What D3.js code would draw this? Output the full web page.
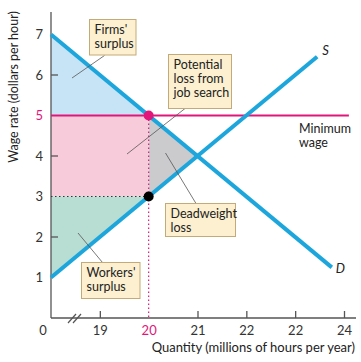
<!DOCTYPE html>
<html><head><meta charset="utf-8">
<script src="https://cdn.jsdelivr.net/npm/d3@7"></script>
<style>
html,body{margin:0;padding:0;background:#fff;}
text{font-family:Lato,"Open Sans",sans-serif;}
</style></head>
<body><svg id="c" width="361" height="362"></svg>
<script>
// ---- data ----
const qTicks = [19, 20, 21, 22, 23, 24];
const qTickLabels = ["19", "20", "21", "22", "22", "24"];
const wageTicks = [1, 2, 3, 4, 5, 6, 7];
const wageTickMarks = [2, 4, 6];
const demand = [{q: 18, w: 7}, {q: 23.75, w: 1.25}];
const supply = [{q: 18, w: 1}, {q: 23.45, w: 6.45}];
const minWage = 5;
const minWageEndQ = 24.1;
const quantityAtMin = 20;
const supplyPriceAtMin = 3;
const firmsSurplus = [{q: 18, w: 7}, {q: 20, w: 5}, {q: 18, w: 5}];
const potentialLoss = [{q: 18, w: 5}, {q: 20, w: 5}, {q: 20, w: 3}, {q: 18, w: 3}];
const deadweight = [{q: 20, w: 5}, {q: 21, w: 4}, {q: 20, w: 3}];
const workersSurplus = [{q: 18, w: 3}, {q: 20, w: 3}, {q: 18, w: 1}];
const labels = [
  {lines: ["Firms'", "surplus"], box: [89.5, 19.5, 46.5, 35.5], from: [104.5, 55.5], to: [72, 78]},
  {lines: ["Potential", "loss from", "job search"], box: [168.5, 54.5, 63, 54], from: [185, 108.5], to: [127, 154]},
  {lines: ["Deadweight", "loss"], box: [165.5, 203.5, 70, 33], from: [196, 203.5], to: [165.5, 153]},
  {lines: ["Workers'", "surplus"], box: [81.5, 262.5, 58.5, 36], from: [102.5, 262.5], to: [78, 233]}
];

// ---- drawing ----
const svg = d3.select("#c");
const x = d3.scaleLinear().domain([18, 24]).range([51, 344]);
const y = d3.scaleLinear().domain([0, 7]).range([318, 34.5]);
const line = d3.line().x(d => x(d.q)).y(d => y(d.w));
const BLUE = "#1ca6dc", MAG = "#e2167a";

// fills
svg.append("path").attr("d", line(firmsSurplus) + "Z").attr("fill", "#c7e4f6");
svg.append("path").attr("d", line(potentialLoss) + "Z").attr("fill", "#f8cbdb");
svg.append("path").attr("d", line(deadweight) + "Z").attr("fill", "#cbcacd");
svg.append("path").attr("d", line(workersSurplus) + "Z").attr("fill", "#b8ddd3");

// axes
const axisColor = "#555";
svg.append("line").attr("x1", x(18)).attr("x2", x(18)).attr("y1", 12).attr("y2", y(0))
  .attr("stroke", axisColor).attr("stroke-width", 1.3);
svg.append("line").attr("x1", x(18)).attr("x2", 356).attr("y1", y(0)).attr("y2", y(0))
  .attr("stroke", axisColor).attr("stroke-width", 1.3);

const xAxis = svg.append("g").attr("transform", `translate(0,${y(0)})`)
  .call(d3.axisBottom(x).tickValues(qTicks).tickSizeInner(-7).tickSizeOuter(0).tickPadding(8)
    .tickFormat((d, i) => qTickLabels[i]));
xAxis.select(".domain").remove();
xAxis.selectAll(".tick line").attr("stroke", axisColor).attr("stroke-width", 1.3)
  .filter(d => d === quantityAtMin).remove();
xAxis.selectAll(".tick text").attr("font-size", 13).attr("fill", d => d === quantityAtMin ? MAG : "#333")
  .attr("font-family", "Lato, 'Open Sans', sans-serif");

const yAxis = svg.append("g").attr("transform", `translate(${x(18)},0)`)
  .call(d3.axisLeft(y).tickValues(wageTicks).tickSize(0).tickPadding(8).tickFormat(d3.format("d")));
yAxis.select(".domain").remove();
yAxis.selectAll(".tick text").attr("font-size", 13).attr("fill", d => d === minWage ? MAG : "#333")
  .attr("font-family", "Lato, 'Open Sans', sans-serif");
svg.selectAll(".ytm").data(wageTickMarks).enter().append("line")
  .attr("x1", x(18)).attr("x2", x(18) + 7).attr("y1", d => y(d)).attr("y2", d => y(d))
  .attr("stroke", axisColor).attr("stroke-width", 1.3);

// origin label and axis break
svg.append("text").attr("x", 43).attr("y", y(0) + 17).attr("text-anchor", "middle")
  .attr("font-size", 13).attr("fill", "#333").text("0");
[0, 5].forEach(o => {
  svg.append("line").attr("x1", 68 + o).attr("y1", y(0) + 5).attr("x2", 76 + o).attr("y2", y(0) - 4)
    .attr("stroke", axisColor).attr("stroke-width", 1.2);
});

// dotted guides
svg.append("line").attr("x1", x(18)).attr("x2", x(quantityAtMin)).attr("y1", y(supplyPriceAtMin)).attr("y2", y(supplyPriceAtMin))
  .attr("stroke", "#333").attr("stroke-width", 1.2).attr("stroke-dasharray", "1.5,2.5");
svg.append("line").attr("x1", x(quantityAtMin)).attr("x2", x(quantityAtMin)).attr("y1", y(minWage)).attr("y2", y(0))
  .attr("stroke", MAG).attr("stroke-width", 1.2).attr("stroke-dasharray", "1.5,2.5");

// minimum wage line
svg.append("line").attr("x1", x(18)).attr("x2", x(minWageEndQ)).attr("y1", y(minWage)).attr("y2", y(minWage))
  .attr("stroke", MAG).attr("stroke-width", 2);

// curves
svg.append("path").attr("d", line(demand)).attr("stroke", BLUE).attr("stroke-width", 4).attr("fill", "none");
svg.append("path").attr("d", line(supply)).attr("stroke", BLUE).attr("stroke-width", 4).attr("fill", "none");

// leaders and boxes
labels.forEach(l => {
  svg.append("line").attr("x1", l.from[0]).attr("y1", l.from[1]).attr("x2", l.to[0]).attr("y2", l.to[1])
    .attr("stroke", "#555").attr("stroke-width", 0.8);
});

// points
svg.append("circle").attr("cx", x(quantityAtMin)).attr("cy", y(minWage)).attr("r", 5).attr("fill", MAG);
svg.append("circle").attr("cx", x(quantityAtMin)).attr("cy", y(supplyPriceAtMin)).attr("r", 5).attr("fill", "#000");

labels.forEach(l => {
  const [bx, by, bw, bh] = l.box;
  svg.append("rect").attr("x", bx).attr("y", by).attr("width", bw).attr("height", bh)
    .attr("fill", "#fcf0d0").attr("stroke", "#c4aa78").attr("stroke-width", 1);
  const t = svg.append("text").attr("x", bx + 5).attr("y", by + 14).attr("font-size", 12.5).attr("fill", "#222");
  l.lines.forEach((s, i) => t.append("tspan").attr("x", bx + 5).attr("dy", i === 0 ? 0 : 14).text(s));
});

// curve labels
svg.append("text").attr("x", x(supply[1].q) + 5).attr("y", y(supply[1].w) - 2).attr("font-size", 13)
  .attr("font-style", "italic").attr("fill", "#222").text("S");
svg.append("text").attr("x", x(demand[1].q) + 4).attr("y", y(demand[1].w) + 6).attr("font-size", 13)
  .attr("font-style", "italic").attr("fill", "#222").text("D");

// minimum wage label
const mw = svg.append("text").attr("x", 299).attr("y", y(minWage) + 17).attr("font-size", 12.5).attr("fill", "#222");
mw.append("tspan").attr("x", 299).attr("dy", 0).text("Minimum");
mw.append("tspan").attr("x", 299).attr("dy", 14).text("wage");

// axis titles
svg.append("text").attr("transform", "translate(18,87) rotate(-90)").attr("text-anchor", "middle")
  .attr("font-size", 12.5).attr("fill", "#222").text("Wage rate (dollars per hour)");
svg.append("text").attr("x", 355).attr("y", 352).attr("text-anchor", "end")
  .attr("font-size", 13).attr("fill", "#222").text("Quantity (millions of hours per year)");
</script></body></html>
